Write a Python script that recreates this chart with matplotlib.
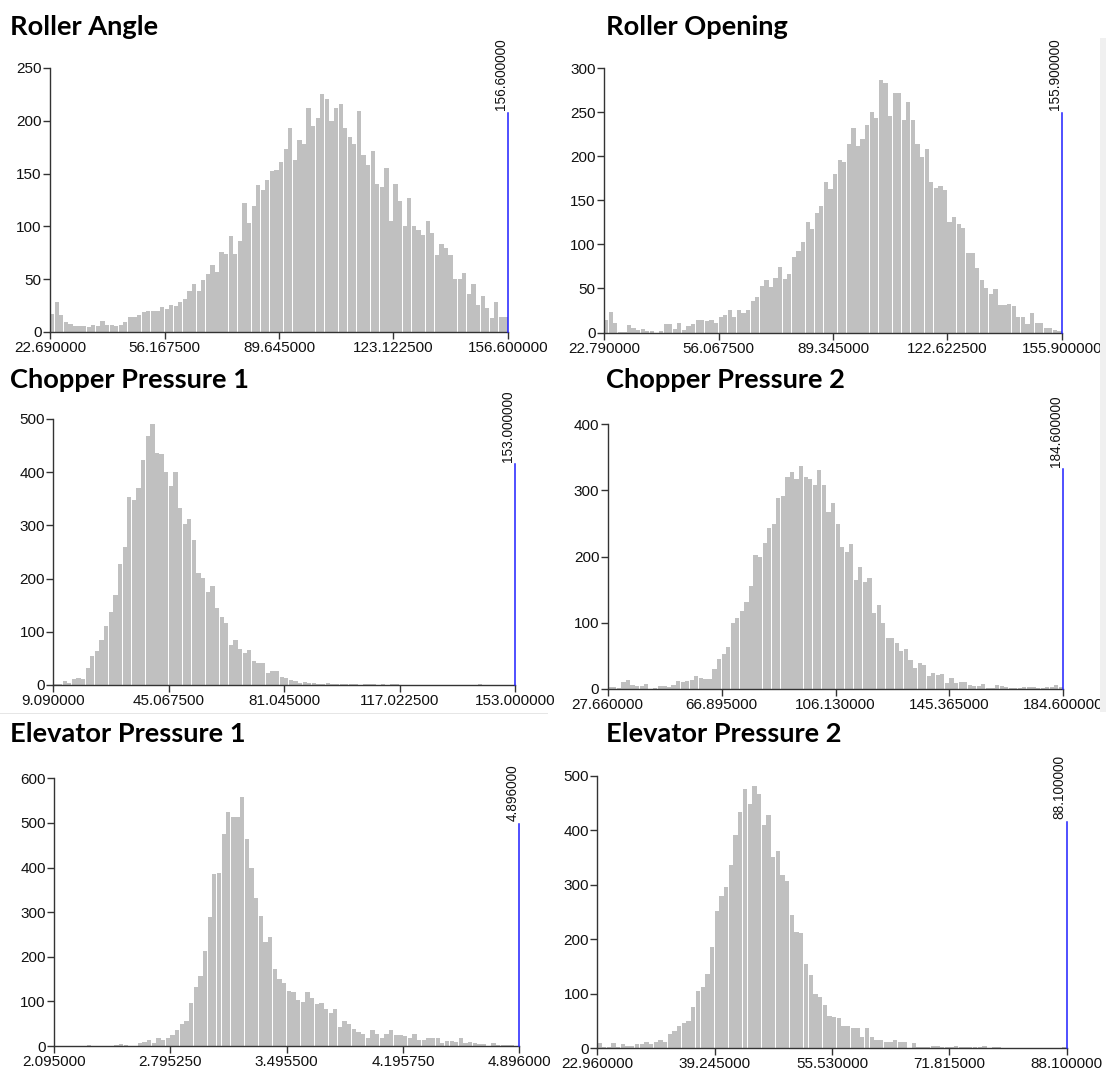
import numpy as np
import matplotlib
matplotlib.use("Agg")
import matplotlib.pyplot as plt
import matplotlib.transforms as mtransforms
from matplotlib.patches import Rectangle

# ---------------- data ----------------
titles = ["Roller Angle", "Roller Opening", "Chopper Pressure 1",
          "Chopper Pressure 2", "Elevator Pressure 1", "Elevator Pressure 2"]
range_min = [22.69, 22.79, 9.09, 27.66, 2.095, 22.96]
range_max = [156.6, 155.9, 153.0, 184.6, 4.896, 88.1]
y_top = [250, 300, 500, 400, 600, 500]
y_step = [50, 50, 100, 100, 100, 100]

counts_roller_angle = [
    17, 28, 16, 9, 8, 6, 6, 6, 5, 7, 6, 10, 7, 7, 6, 7, 9, 14, 14, 16,
    19, 20, 20, 20, 24, 22, 26, 25, 28, 31, 39, 45, 39, 49, 55, 63, 57, 76, 74, 91,
    74, 86, 122, 103, 119, 139, 134, 144, 152, 153, 161, 173, 193, 163, 182, 178,
    212, 195, 203, 225, 221, 200, 212, 216, 193, 185, 178, 209, 168, 158, 171, 140,
    137, 155, 105, 140, 124, 100, 127, 100, 97, 92, 105, 94, 73, 83, 80, 73, 50, 50,
    56, 36, 45, 26, 34, 23, 13, 28, 14, 14]
counts_roller_opening = [
    14, 23, 11, 1, 1, 8, 5, 3, 4, 2, 2, 0, 2, 10, 10, 4, 11, 3, 7, 10, 14, 14, 13, 14,
    11, 18, 20, 26, 18, 25, 22, 26, 36, 40, 53, 59, 52, 62, 74, 61, 66, 86, 92, 103,
    125, 117, 135, 144, 171, 163, 180, 196,
    193, 214, 232, 211, 219, 235, 250, 243, 286, 283, 245, 272, 272, 241, 261, 241,
    214, 199, 208, 171, 164, 166, 162, 125, 131, 123, 118, 90, 90, 73, 59, 51, 44, 49,
    31, 31, 32, 30, 18, 18, 10, 22, 11, 11, 5, 5, 3, 2]
counts_chopper_1 = [
    2, 2, 7, 4, 11, 14, 12, 32, 55, 64, 85, 110, 137, 170, 227, 259, 354, 348, 370, 422,
    468, 491, 437, 434, 401, 375, 400, 332, 303, 312, 273, 210, 202, 174, 187, 144, 127,
    116, 75, 85, 67, 61, 65, 46, 41, 41, 23, 26, 27,
    15, 13, 9, 7, 4, 6, 4, 4, 2, 2, 3, 2, 1, 1, 2, 1, 1, 0, 1, 1, 1, 0, 1, 0, 1, 1,
    0, 0, 0, 0, 0, 0, 0, 0, 0, 0, 0, 0, 0, 0, 0, 0, 0, 1, 0, 0, 0, 0, 0, 0, 0]
counts_chopper_2 = [
    3, 3, 2, 11, 13, 6, 5, 5, 8, 0, 2, 4, 4, 3, 6, 12, 10, 12, 13, 20, 17, 15, 15, 30,
    46, 53, 64, 99, 108, 118, 131, 155, 202, 200, 221, 244, 250, 288, 292, 320, 328,
    318, 337, 320, 317, 308, 331, 309, 268, 281, 250,
    215, 207, 219, 164, 184, 162, 168, 115, 127, 99, 77, 77, 69, 58, 60, 44, 31, 40,
    36, 20, 24, 21, 22, 9, 17, 9, 11, 11, 6, 4, 4, 7, 2, 2, 6, 4, 3, 2, 1, 1, 3, 3, 3,
    2, 1, 3, 3, 6, 3]
counts_elevator_1 = [
    0, 0, 0, 0, 0, 0, 0, 2, 0, 0, 0, 0, 0, 3, 5, 2, 0, 0, 6, 8, 13, 7, 19, 13, 19, 24,
    36, 49, 57, 96, 132, 158, 214, 290, 385, 387, 475, 524, 513, 513, 557, 464, 400,
    331, 292, 232, 245, 172, 150,
    142, 124, 120, 104, 98, 120, 107, 94, 96, 82, 75, 83, 43, 55, 49, 38, 32, 27, 17,
    36, 27, 17, 26, 36, 25, 25, 22, 17, 27, 13, 13, 17, 17, 17, 7, 12, 12, 10, 19, 6,
    10, 7, 4, 4, 0, 6, 2, 2, 2, 2, 1]
counts_elevator_2 = [
    9, 3, 3, 9, 3, 7, 5, 5, 8, 8, 12, 8, 12, 16, 12, 26, 31, 40, 46, 50, 76, 105, 113,
    136, 185, 252, 279, 295, 337, 391, 433, 475, 448, 482, 466, 410, 428, 350, 362, 317,
    306, 245, 213, 211, 155, 134,
    100, 94, 80, 60, 57, 55, 40, 40, 37, 37, 21, 38, 20, 16, 15, 12, 12, 15, 12, 11, 1,
    9, 3, 2, 2, 4, 4, 3, 3, 3, 4, 2, 2, 2, 3, 3, 4, 1, 2, 2, 0, 1, 0, 0, 1, 0, 0, 0, 1,
    0, 0, 0, 0, 2]

all_counts = [counts_roller_angle, counts_roller_opening, counts_chopper_1,
              counts_chopper_2, counts_elevator_1, counts_elevator_2]

# ---------------- layout (pixels) ----------------
W, H = 1106, 1075
# left, right, top, bottom in pixel coords (top-origin)
axes_px = [(50, 508, 68, 332), (604, 1062, 68, 332.5),
           (53.3, 515, 419, 685), (607.7, 1063.3, 424.3, 689),
           (54, 519.3, 778.3, 1046), (597.3, 1066.7, 775.7, 1048.3)]
title_px = [(10, 35), (606, 35), (10, 388), (606, 388), (10, 742), (606, 742)]

fig = plt.figure(figsize=(W / 100, H / 100), dpi=100)
fig.patch.set_facecolor("white")

# screenshot artefacts: scrollbar strip and separator line
fig.patches.append(Rectangle((1100 / W, 1 - 712 / H), 6 / W, (712 - 38) / H,
                             transform=fig.transFigure, facecolor="#f0f0f0",
                             edgecolor="none", zorder=0))
fig.patches.append(Rectangle((0, 1 - 714 / H), 548 / W, 1.5 / H,
                             transform=fig.transFigure, facecolor="#e6e6e6",
                             edgecolor="none", zorder=0))

tick_font = dict(family="Liberation Sans", size=11)
axis_col = "#333333"

for i in range(6):
    l, r, t, b = axes_px[i]
    ax = fig.add_axes([l / W, 1 - b / H, (r - l) / W, (b - t) / H])
    lo, hi = range_min[i], range_max[i]
    counts = np.array(all_counts[i])
    edges = np.linspace(lo, hi, len(counts) + 1)
    w = edges[1] - edges[0]
    ax.bar(edges[:-1], counts, width=w * 0.92, align="edge",
           color="#c0c0c0", linewidth=0, zorder=2)
    ax.set_xlim(lo, hi)
    ax.set_ylim(0, y_top[i])

    for s in ["top", "right"]:
        ax.spines[s].set_visible(False)
    for s in ["left", "bottom"]:
        ax.spines[s].set_color(axis_col)
        ax.spines[s].set_linewidth(1.0)
        ax.spines[s].set_zorder(3)

    xt = np.linspace(lo, hi, 5)
    ax.set_xticks(xt)
    ax.set_xticklabels(["%.6f" % v for v in xt], fontdict=tick_font)
    yt = np.arange(0, y_top[i] + 1, y_step[i])
    ax.set_yticks(yt)
    ax.set_yticklabels([str(v) for v in yt], fontdict=tick_font)
    ax.tick_params(axis="x", length=5, width=1.0, color=axis_col, pad=1.5,
                   labelcolor="#111111")
    ax.tick_params(axis="y", length=5, width=1.0, color=axis_col, pad=1,
                   labelcolor="#111111")
    ax.set_facecolor("none")

    # max marker line with rotated label
    trans = mtransforms.blended_transform_factory(ax.transData, ax.transAxes)
    ax.plot([hi, hi], [0, 0.83], transform=trans, color="#1f1fff",
            linewidth=1.1, zorder=4, clip_on=False)
    ax.text(hi, 0.84, "%.6f" % hi, transform=trans, rotation=90,
            ha="right", va="bottom", family="Liberation Sans", size=9.8,
            color="#111111")

    tx, ty = title_px[i]
    fig.text(tx / W, 1 - ty / H, titles[i], ha="left", va="baseline",
             family="Lato", weight="bold", size=19.6, color="black")

fig.savefig("out.png", dpi=100, facecolor="white")
